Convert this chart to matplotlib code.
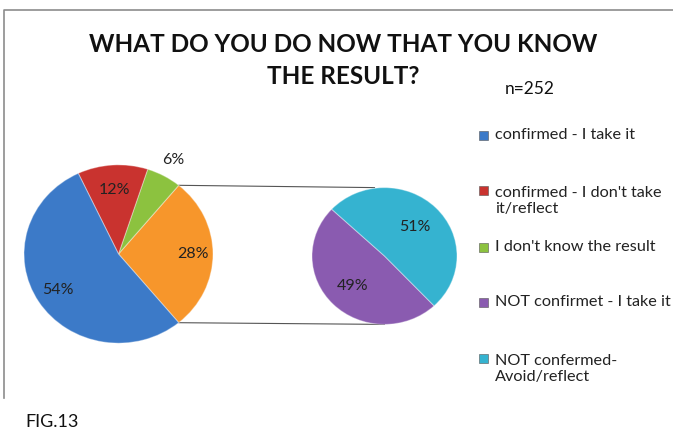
import matplotlib
matplotlib.use("Agg")
import matplotlib.pyplot as plt
import numpy as np
from matplotlib.patches import Rectangle

plt.rcParams['font.family'] = ['Lato', 'DejaVu Sans']

# ---- data ----
main_labels = ["confirmed - I take it", "confirmed - I don't take\nit/reflect",
               "I don't know the result"]
main_values = [54, 12, 6]
sub_labels = ["NOT confirmet - I take it", "NOT confermed-\nAvoid/reflect"]
sub_values = [49, 51]          # split of the "other" slice
other_value = 28               # main-pie slice that is broken out

title_lines = ["WHAT DO YOU DO NOW THAT YOU KNOW", "THE RESULT?"]
n_text = "n=252"
fig_caption = "FIG.13"

main_colors = ["#3C7AC8", "#C9332F", "#8CC23F", "#F7962B"]
sub_colors = ["#8A5BB0", "#35B3D0"]

W, H = 673, 438
SY = 1.06  # the pies are drawn slightly wider than tall

fig = plt.figure(figsize=(W / 100, H / 100), dpi=100)
ax = fig.add_axes([0, 0, 1, 1])


def Y(y):
    """Pixel row (from top) to data y."""
    return (H - y) * SY


def reset_axes():
    ax.set_aspect('auto')
    ax.set_xlim(0, W)
    ax.set_ylim(0, H * SY)
    ax.axis('off')


reset_axes()

# chart frame (top and left edges)
ax.plot([4, 4, W], [Y(398), Y(10), Y(10)], color="#8c8c8c", lw=1.2)

# ---- main pie ----
c1 = (118.5, Y(254))
r1 = 94.5
vals1 = [other_value] + main_values[::-1]
cols1 = [main_colors[3]] + main_colors[:3][::-1]
wedges1, _ = ax.pie(
    vals1, colors=cols1, center=c1, radius=r1,
    startangle=-360 * other_value / 100 / 2, counterclock=True,
    wedgeprops=dict(edgecolor=(1, 1, 1, 0.35), linewidth=0.8),
    frame=True)
reset_axes()

dist1 = [0.79, 1.2, 0.72, 0.76]
for w, v, d in zip(wedges1, vals1, dist1):
    a = np.deg2rad((w.theta1 + w.theta2) / 2)
    ax.text(c1[0] + d * r1 * np.cos(a), c1[1] + d * r1 * np.sin(a),
            f"{v}%", ha='center', va='center', fontsize=11.5, color="#222222")

# ---- secondary pie ----
c2 = (384.5, Y(256))
r2 = 72.5
share0 = sub_values[0] / sum(sub_values) * 360
wedges2, _ = ax.pie(sub_values, colors=sub_colors, center=c2, radius=r2,
                    startangle=225 - share0 / 2, counterclock=True,
                    wedgeprops=dict(edgecolor=(1, 1, 1, 0.35), linewidth=0.8),
                    frame=True)
reset_axes()

dist2 = [0.63, 0.6]
for w, v, d in zip(wedges2, sub_values, dist2):
    a = np.deg2rad((w.theta1 + w.theta2) / 2)
    ax.text(c2[0] + d * r2 * np.cos(a), c2[1] + d * r2 * np.sin(a),
            f"{v}%", ha='center', va='center', fontsize=11.5, color="#222222")

# connector lines from the broken-out slice to the secondary pie
w_other = wedges1[0]
for ang, yy, xe in [(w_other.theta2, c2[1] + r2, c2[0] - 10),
                    (w_other.theta1, c2[1] - r2, c2[0])]:
    a = np.deg2rad(ang)
    x0 = c1[0] + r1 * np.cos(a)
    y0 = c1[1] + r1 * np.sin(a)
    ax.plot([x0, xe], [y0, yy], color="#555555", lw=0.8, zorder=0)

# ---- titles ----
ax.text(343, Y(45), title_lines[0], ha='center', va='center', fontsize=17.5,
        fontweight='bold', color="#111111")
ax.text(343, Y(76), title_lines[1], ha='center', va='center', fontsize=17.5,
        fontweight='bold', color="#111111")
ax.text(530, Y(89), n_text, ha='center', va='center', fontsize=12.5, color="#111111")
ax.text(25, Y(422), fig_caption, ha='left', va='center', fontsize=13, color="#111111")

# ---- legend ----
leg_labels = main_labels + sub_labels
leg_colors = main_colors[:3] + sub_colors
leg_y = [135, 201, 247, 302, 369]
for lab, col, yy in zip(leg_labels, leg_colors, leg_y):
    nlines = lab.count("\n") + 1
    top_line_y = yy - (nlines - 1) * 11
    ax.add_patch(Rectangle((479, Y(top_line_y) - 4.8), 9, 9.5, facecolor=col,
                           edgecolor="#555555", lw=0.4))
    ax.text(495, Y(yy), lab, ha='left', va='center', fontsize=11.7,
            color="#222222", linespacing=1.2)

fig.savefig("out.png", dpi=100, facecolor="white")
